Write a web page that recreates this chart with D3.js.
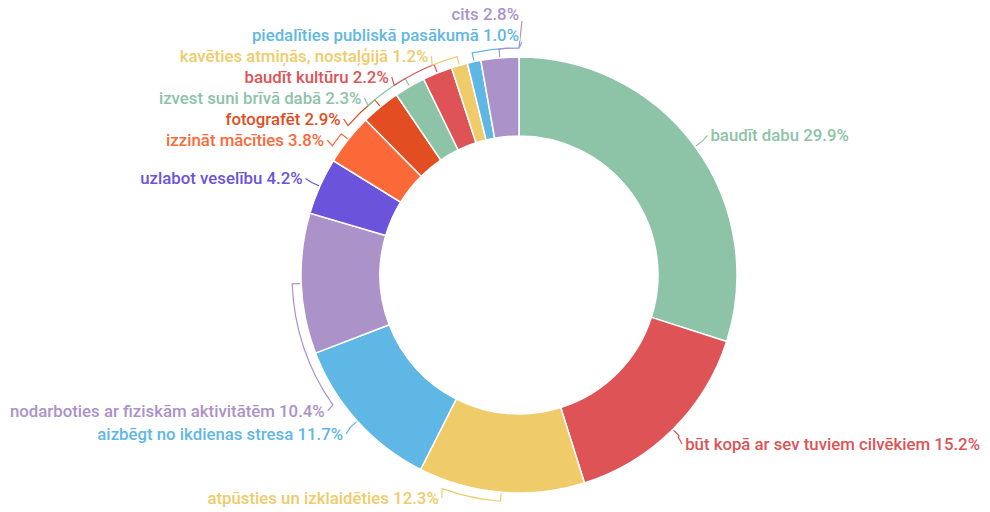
<!DOCTYPE html>
<html>
<head>
<meta charset="utf-8">
<script src="https://cdn.jsdelivr.net/npm/d3@7"></script>
<style>
  body { margin: 0; background: #fff; }
  text { font-family: Roboto, sans-serif; }
</style>
</head>
<body>
<script>
const categories = [
  'baudīt dabu',
  'būt kopā ar sev tuviem cilvēkiem',
  'atpūsties un izklaidēties',
  'aizbēgt no ikdienas stresa',
  'nodarboties ar fiziskām aktivitātēm',
  'uzlabot veselību',
  'izzināt mācīties',
  'fotografēt',
  'izvest suni brīvā dabā',
  'baudīt kultūru',
  'kavēties atmiņās, nostaļģijā',
  'piedalīties publiskā pasākumā',
  'cits'
]
const values = [29.9, 15.2, 12.3, 11.7, 10.4, 4.2, 3.8, 2.9, 2.3, 2.2, 1.2, 1.0, 2.8]
const colors = [
  '#8dc3a7', '#dd5356', '#efcb6a', '#5fb7e5', '#ab92c8', '#6b53db', '#fc6939',
  '#e24d22', '#8dc3a7', '#dd5356', '#efcb6a', '#5fb7e5', '#ab92c8'
]

const width = 990
const height = 512
const cx = 519
const cy = 275
const outerR = 218
const innerR = 139
const labelR = 237
const bracketR = 227
const gap = 21
const minY = 14 - cy
const maxY = 498 - cy
const sideMargin = 10

const svg = d3.select('body').append('svg')
  .attr('width', width)
  .attr('height', height)

const g = svg.append('g')
  .attr('transform', `translate(${cx}, ${cy})`)

const data = categories.map((c, i) => ({ name: c, value: values[i], color: colors[i] }))

const arcs = d3.pie().sort(null).value(d => d.value)(data)

const arcGen = d3.arc().innerRadius(innerR).outerRadius(outerR)

g.selectAll('path.slice')
  .data(arcs)
  .join('path')
  .attr('class', 'slice')
  .attr('d', arcGen)
  .attr('fill', d => d.data.color)
  .attr('stroke', '#fff')
  .attr('stroke-width', 1.5)

// labels
const labels = arcs.map(a => {
  const mid = (a.startAngle + a.endAngle) / 2
  return {
    a,
    mid,
    side: Math.sin(mid) >= 0 ? 1 : -1,
    y: -Math.cos(mid) * labelR,
    text: `${a.data.name} ${a.data.value.toFixed(1)}%`
  }
})

const lineLayer = g.append('g')
const textLayer = g.append('g')

const texts = textLayer.selectAll('text')
  .data(labels)
  .join('text')
  .attr('fill', d => d.a.data.color)
  .attr('font-size', 16.8)
  .attr('font-weight', 500)
  .attr('stroke', '#fff')
  .attr('stroke-width', 3)
  .attr('stroke-linejoin', 'round')
  .attr('paint-order', 'stroke')
  .attr('dy', '0.35em')
  .attr('text-anchor', d => d.side > 0 ? 'start' : 'end')
  .text(d => d.text)

texts.each(function (d) { d.w = this.getComputedTextLength() })

const xOff = y => Math.abs(y) < labelR ? Math.sqrt(labelR * labelR - y * y) : 0

// keep labels inside the chart horizontally
labels.forEach(d => {
  const avail = d.side < 0 ? cx - sideMargin - d.w : width - cx - sideMargin - d.w
  if (xOff(d.y) > avail) {
    const sign = d.y >= 0 ? 1 : -1
    d.y = sign * Math.sqrt(Math.max(0, labelR * labelR - avail * avail))
  }
})

// resolve overlaps per side
const relax = items => {
  items.sort((a, b) => a.y - b.y)
  let blocks = items.map(it => ({ items: [it] }))
  const place = b => {
    const mean = d3.mean(b.items, it => it.y)
    let top = mean - (b.items.length - 1) * gap / 2
    top = Math.max(top, minY)
    top = Math.min(top, maxY - (b.items.length - 1) * gap)
    b.top = top
  }
  blocks.forEach(place)
  let merged = true
  while (merged) {
    merged = false
    for (let i = 1; i < blocks.length; i++) {
      const p = blocks[i - 1]
      const n = blocks[i]
      if (p.top + p.items.length * gap > n.top) {
        const b = { items: p.items.concat(n.items) }
        place(b)
        blocks.splice(i - 1, 2, b)
        merged = true
        break
      }
    }
  }
  blocks.forEach(b => b.items.forEach((it, k) => { it.ly = b.top + k * gap }))
}

relax(labels.filter(d => d.side > 0))
relax(labels.filter(d => d.side < 0))

labels.forEach(d => {
  d.lx = d.side * xOff(d.ly)
})

texts
  .attr('x', d => d.lx)
  .attr('y', d => d.ly)

// leader lines
const leader = d => {
  const p = d3.path()
  const r0 = outerR + 1
  p.moveTo(Math.sin(d.mid) * r0, -Math.cos(d.mid) * r0)
  p.lineTo(Math.sin(d.mid) * bracketR, -Math.cos(d.mid) * bracketR)
  let t = Math.atan2(d.lx, -d.ly)
  if (t < 0) t += 2 * Math.PI
  if (d.side < 0 && t < 1e-9) t = 2 * Math.PI
  p.arc(0, 0, bracketR, d.mid - Math.PI / 2, t - Math.PI / 2, t < d.mid)
  const top = Math.abs(d.ly) > bracketR && d.ly < 0
  p.lineTo(d.lx - d.side * 3, d.ly + (top ? 7 : 0))
  return p.toString()
}

lineLayer.selectAll('path')
  .data(labels)
  .join('path')
  .attr('d', leader)
  .attr('fill', 'none')
  .attr('stroke', d => d.a.data.color)
  .attr('stroke-width', 1.2)
</script>
</body>
</html>
